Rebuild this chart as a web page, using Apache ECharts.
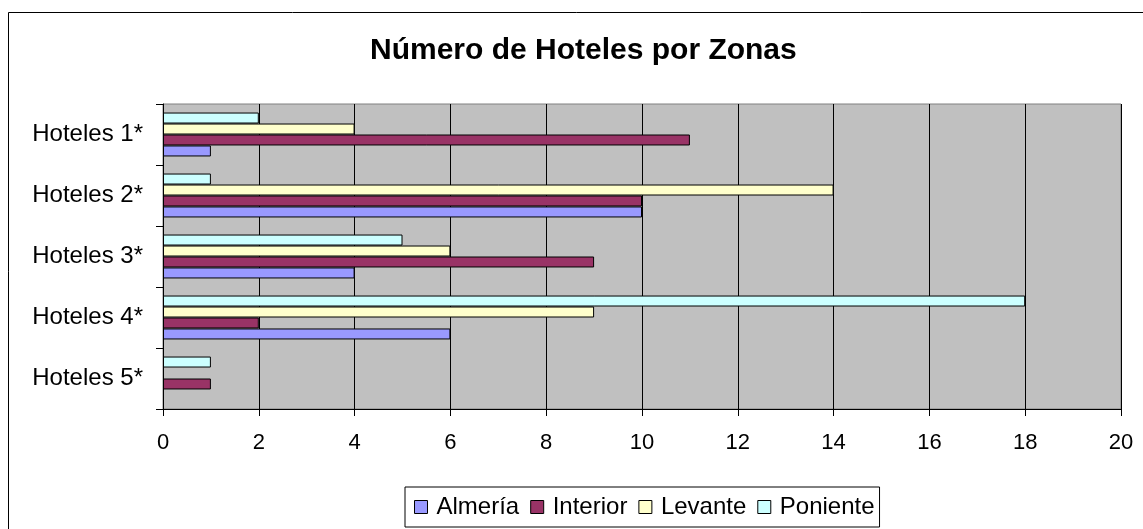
<!DOCTYPE html>
<html>
<head>
<meta charset="utf-8">
<script src="https://cdn.jsdelivr.net/npm/echarts@6/dist/echarts.min.js"></script>
<style>
  html, body { margin: 0; padding: 0; background: #fff; }
  #chart { width: 1143px; height: 529px; }
</style>
</head>
<body>
<div id="chart"></div>
<script>
var categories = ['Hoteles 1*', 'Hoteles 2*', 'Hoteles 3*', 'Hoteles 4*', 'Hoteles 5*'];
var zonas = ['Almería', 'Interior', 'Levante', 'Poniente'];
var almeria  = [1, 10, 4, 6, 0];
var interior = [11, 10, 9, 2, 1];
var levante  = [4, 14, 6, 9, 0];
var poniente = [2, 1, 5, 18, 1];
var xTicks = [0, 2, 4, 6, 8, 10, 12, 14, 16, 18, 20];

var chartDom = document.getElementById('chart');
var myChart = echarts.init(chartDom);
var font = '"Liberation Sans", Arial, sans-serif';

var makeSeries = function (name, data, color) {
    return {
        name: name,
        type: 'bar',
        // Excel leaves zero values blank
        data: data.map(function (v) { return v === 0 ? '-' : v; }),
        barGap: '0%',
        barCategoryGap: '28%',
        itemStyle: { color: color, borderColor: '#000', borderWidth: 1 },
        emphasis: { disabled: true }
    };
};

var option = {
    animation: false,
    backgroundColor: '#fff',
    title: {
        text: 'Número de Hoteles por Zonas',
        left: 370,
        top: 36,
        padding: 0,
        textStyle: { fontFamily: font, fontSize: 30, fontWeight: 'bold', color: '#000' }
    },
    legend: {
        data: zonas,
        left: 405,
        top: 487,
        padding: [8, 5, 8, 9],
        itemGap: 11,
        itemWidth: 13,
        itemHeight: 13,
        borderColor: '#000',
        borderWidth: 1,
        icon: 'rect',
        itemStyle: { borderColor: '#000', borderWidth: 1 },
        textStyle: { fontFamily: font, fontSize: 24, color: '#000', padding: [0, 0, 0, 4] }
    },
    graphic: [{
        type: 'rect',
        shape: { x: 8.5, y: 12.5, width: 1300, height: 700 },
        style: { fill: null, stroke: '#000', lineWidth: 1 },
        silent: true,
        z: -1
    }],
    grid: {
        left: 163,
        right: 22,
        top: 104,
        bottom: 120,
        show: true,
        backgroundColor: '#c0c0c0',
        borderColor: '#808080',
        borderWidth: 1
    },
    xAxis: {
        type: 'value',
        min: 0,
        max: 20,
        interval: 2,
        axisLine: { show: true, lineStyle: { color: '#000' } },
        axisTick: { show: true, length: 7, lineStyle: { color: '#000' } },
        splitLine: { show: true, lineStyle: { color: '#000', width: 1 } },
        axisLabel: {
            fontFamily: font, fontSize: 22, color: '#000', margin: 23,
            formatter: function (v) { return xTicks.indexOf(v) >= 0 ? String(v) : ''; }
        }
    },
    yAxis: {
        type: 'category',
        inverse: true,
        data: categories,
        axisLine: { show: true, lineStyle: { color: '#000' } },
        axisTick: { show: true, length: 7, lineStyle: { color: '#000' } },
        axisLabel: { fontFamily: font, fontSize: 24, color: '#000', margin: 20 }
    },
    // reversed so Poniente sits on top inside each category, as in the original
    series: [
        makeSeries('Poniente', poniente, '#ccffff'),
        makeSeries('Levante', levante, '#ffffcc'),
        makeSeries('Interior', interior, '#993366'),
        makeSeries('Almería', almeria, '#9999ff')
    ]
};

myChart.setOption(option);
window.addEventListener('resize', function () {
    myChart.resize();
});
</script>
</body>
</html>
